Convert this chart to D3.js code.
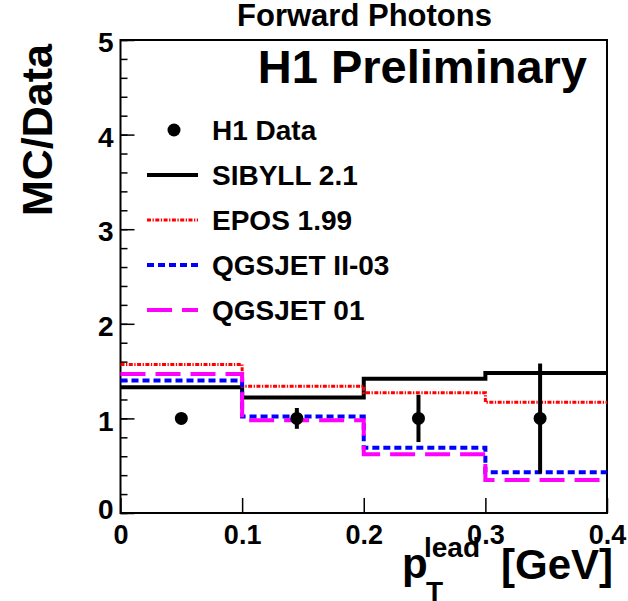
<!DOCTYPE html>
<html>
<head>
<meta charset="utf-8">
<script src="https://cdn.jsdelivr.net/npm/d3@7"></script>
<style>
  body { margin: 0; background: #fff; }
  svg { display: block; font-family: "Liberation Sans", Arial, sans-serif; font-weight: bold; }
</style>
</head>
<body>
<svg id="chart" width="628" height="601"></svg>
<script>
const WIDTH = 628
const HEIGHT = 601

// Data
const binEdges = [0, 0.1, 0.2, 0.3, 0.4]
const sibyll = [1.33, 1.22, 1.42, 1.48]
const epos = [1.57, 1.34, 1.27, 1.17]
const qgsjet2 = [1.40, 1.02, 0.69, 0.43]
const qgsjet01 = [1.47, 0.98, 0.62, 0.35]
const dataX = [0.05, 0.145, 0.245, 0.345]
const dataY = [1, 1, 1, 1]
const dataErr = [0.03, 0.11, 0.25, 0.58]
const xTicks = [0, 0.1, 0.2, 0.3, 0.4]
const yTicks = [0, 1, 2, 3, 4, 5]

const models = [
  { name: "SIBYLL 2.1", values: sibyll, color: "#000000", width: 4, dash: null },
  { name: "EPOS 1.99", values: epos, color: "#ff0000", width: 3, dash: "4,1.5,1.3,1.5" },
  { name: "QGSJET II-03", values: qgsjet2, color: "#0000ff", width: 4, dash: "7,4" },
  { name: "QGSJET 01", values: qgsjet01, color: "#ff00ff", width: 4, dash: "25,10" }
]

// Constants
const margin = { top: 40, right: 21, bottom: 88, left: 120.5 }
const x = d3.scaleLinear([0, 0.4], [margin.left, WIDTH - margin.right])
const y = d3.scaleLinear([0, 5], [HEIGHT - margin.bottom, margin.top])

const svg = d3.select("#chart")

// Y axis: minor then major ticks
svg.append("g")
  .attr("transform", `translate(${margin.left},0)`)
  .call(d3.axisLeft(y).tickValues(d3.range(0, 5.01, 0.2)).tickSize(-7).tickFormat(""))
  .call(g => g.select(".domain").remove())
  .call(g => g.selectAll(".tick line").attr("stroke-width", 1.5))

svg.append("g")
  .attr("transform", `translate(${margin.left},0)`)
  .call(d3.axisLeft(y).tickValues(yTicks).tickSize(-14).tickPadding(7).tickFormat(d3.format("d")))
  .call(g => g.select(".domain").remove())
  .call(g => g.selectAll(".tick line").attr("stroke-width", 1.5))
  .call(g => g.selectAll(".tick text")
    .attr("font-family", "Liberation Sans, Arial, sans-serif")
    .attr("font-weight", "bold")
    .attr("font-size", 28)
    .attr("fill", "#000")
    .attr("dy", d => d === 0 ? "0.2em" : "0.42em"))

// X axis
svg.append("g")
  .attr("transform", `translate(0,${y(0)})`)
  .call(d3.axisBottom(x).tickValues(xTicks).tickSize(-15).tickFormat(d => d === 0 ? "0" : d3.format(".1f")(d)))
  .call(g => g.select(".domain").remove())
  .call(g => g.selectAll(".tick line").attr("stroke-width", 1.5))
  .call(g => g.selectAll(".tick text")
    .attr("font-family", "Liberation Sans, Arial, sans-serif")
    .attr("font-weight", "bold")
    .attr("font-size", 27)
    .attr("fill", "#000")
    .attr("y", 31)
    .attr("dy", 0))

// Frame
svg.append("rect")
  .attr("x", x(0)).attr("y", y(5))
  .attr("width", x(0.4) - x(0)).attr("height", y(0) - y(5))
  .attr("fill", "none").attr("stroke", "#000").attr("stroke-width", 2)

// Step histograms
const step = d3.line()
  .x(d => x(d[0]))
  .y(d => y(d[1]))
  .curve(d3.curveStepAfter)

svg.append("g")
  .selectAll("path")
  .data(models)
  .join("path")
    .attr("fill", "none")
    .attr("stroke", d => d.color)
    .attr("stroke-width", d => d.width)
    .attr("stroke-dasharray", d => d.dash)
    .attr("d", d => step(binEdges.map((e, i) => [e, d.values[Math.min(i, d.values.length - 1)]])))

// Data points with error bars
const pts = svg.append("g")
pts.selectAll("line")
  .data(dataX)
  .join("line")
    .attr("x1", d => x(d)).attr("x2", d => x(d))
    .attr("y1", (d, i) => y(dataY[i] - dataErr[i]))
    .attr("y2", (d, i) => y(dataY[i] + dataErr[i]))
    .attr("stroke", "#000").attr("stroke-width", 4)
pts.selectAll("circle")
  .data(dataX)
  .join("circle")
    .attr("cx", d => x(d))
    .attr("cy", (d, i) => y(dataY[i]))
    .attr("r", 6.5)
    .attr("fill", "#000")

// Legend
const legend = svg.append("g")
const rowY = d3.scaleLinear([0, 4], [130, 310])
legend.append("circle").attr("cx", 174).attr("cy", rowY(0)).attr("r", 6.5).attr("fill", "#000")
legend.append("text").attr("x", 212).attr("y", rowY(0) + 10).attr("font-size", 28).text("H1 Data")
legend.selectAll("line")
  .data(models)
  .join("line")
    .attr("x1", 147).attr("x2", 198)
    .attr("y1", (d, i) => rowY(i + 1)).attr("y2", (d, i) => rowY(i + 1))
    .attr("stroke", d => d.color)
    .attr("stroke-width", d => d.width)
    .attr("stroke-dasharray", d => d.dash)
legend.selectAll("text.entry")
  .data(models)
  .join("text")
    .attr("class", "entry")
    .attr("x", 212)
    .attr("y", (d, i) => rowY(i + 1) + 10)
    .attr("font-size", 28)
    .text(d => d.name)

// Titles
svg.append("text")
  .attr("x", 364.5).attr("y", 26)
  .attr("text-anchor", "middle")
  .attr("font-size", 31)
  .text("Forward Photons")

svg.append("text")
  .attr("x", 587).attr("y", 83)
  .attr("text-anchor", "end")
  .attr("font-size", 47)
  .text("H1 Preliminary")

svg.append("text")
  .attr("transform", "translate(52,130) rotate(-90)")
  .attr("text-anchor", "middle")
  .attr("font-size", 43)
  .text("MC/Data")

// X axis title: p_T^lead [GeV]
const xTitle = svg.append("g")
xTitle.append("text").attr("x", 402).attr("y", 578).attr("font-size", 42).text("p")
xTitle.append("text").attr("x", 424).attr("y", 557).attr("font-size", 28).text("lead")
xTitle.append("text").attr("x", 426).attr("y", 601).attr("font-size", 28).text("T")
xTitle.append("text").attr("x", 613).attr("y", 579).attr("text-anchor", "end").attr("font-size", 42).text("[GeV]")
</script>
</body>
</html>
